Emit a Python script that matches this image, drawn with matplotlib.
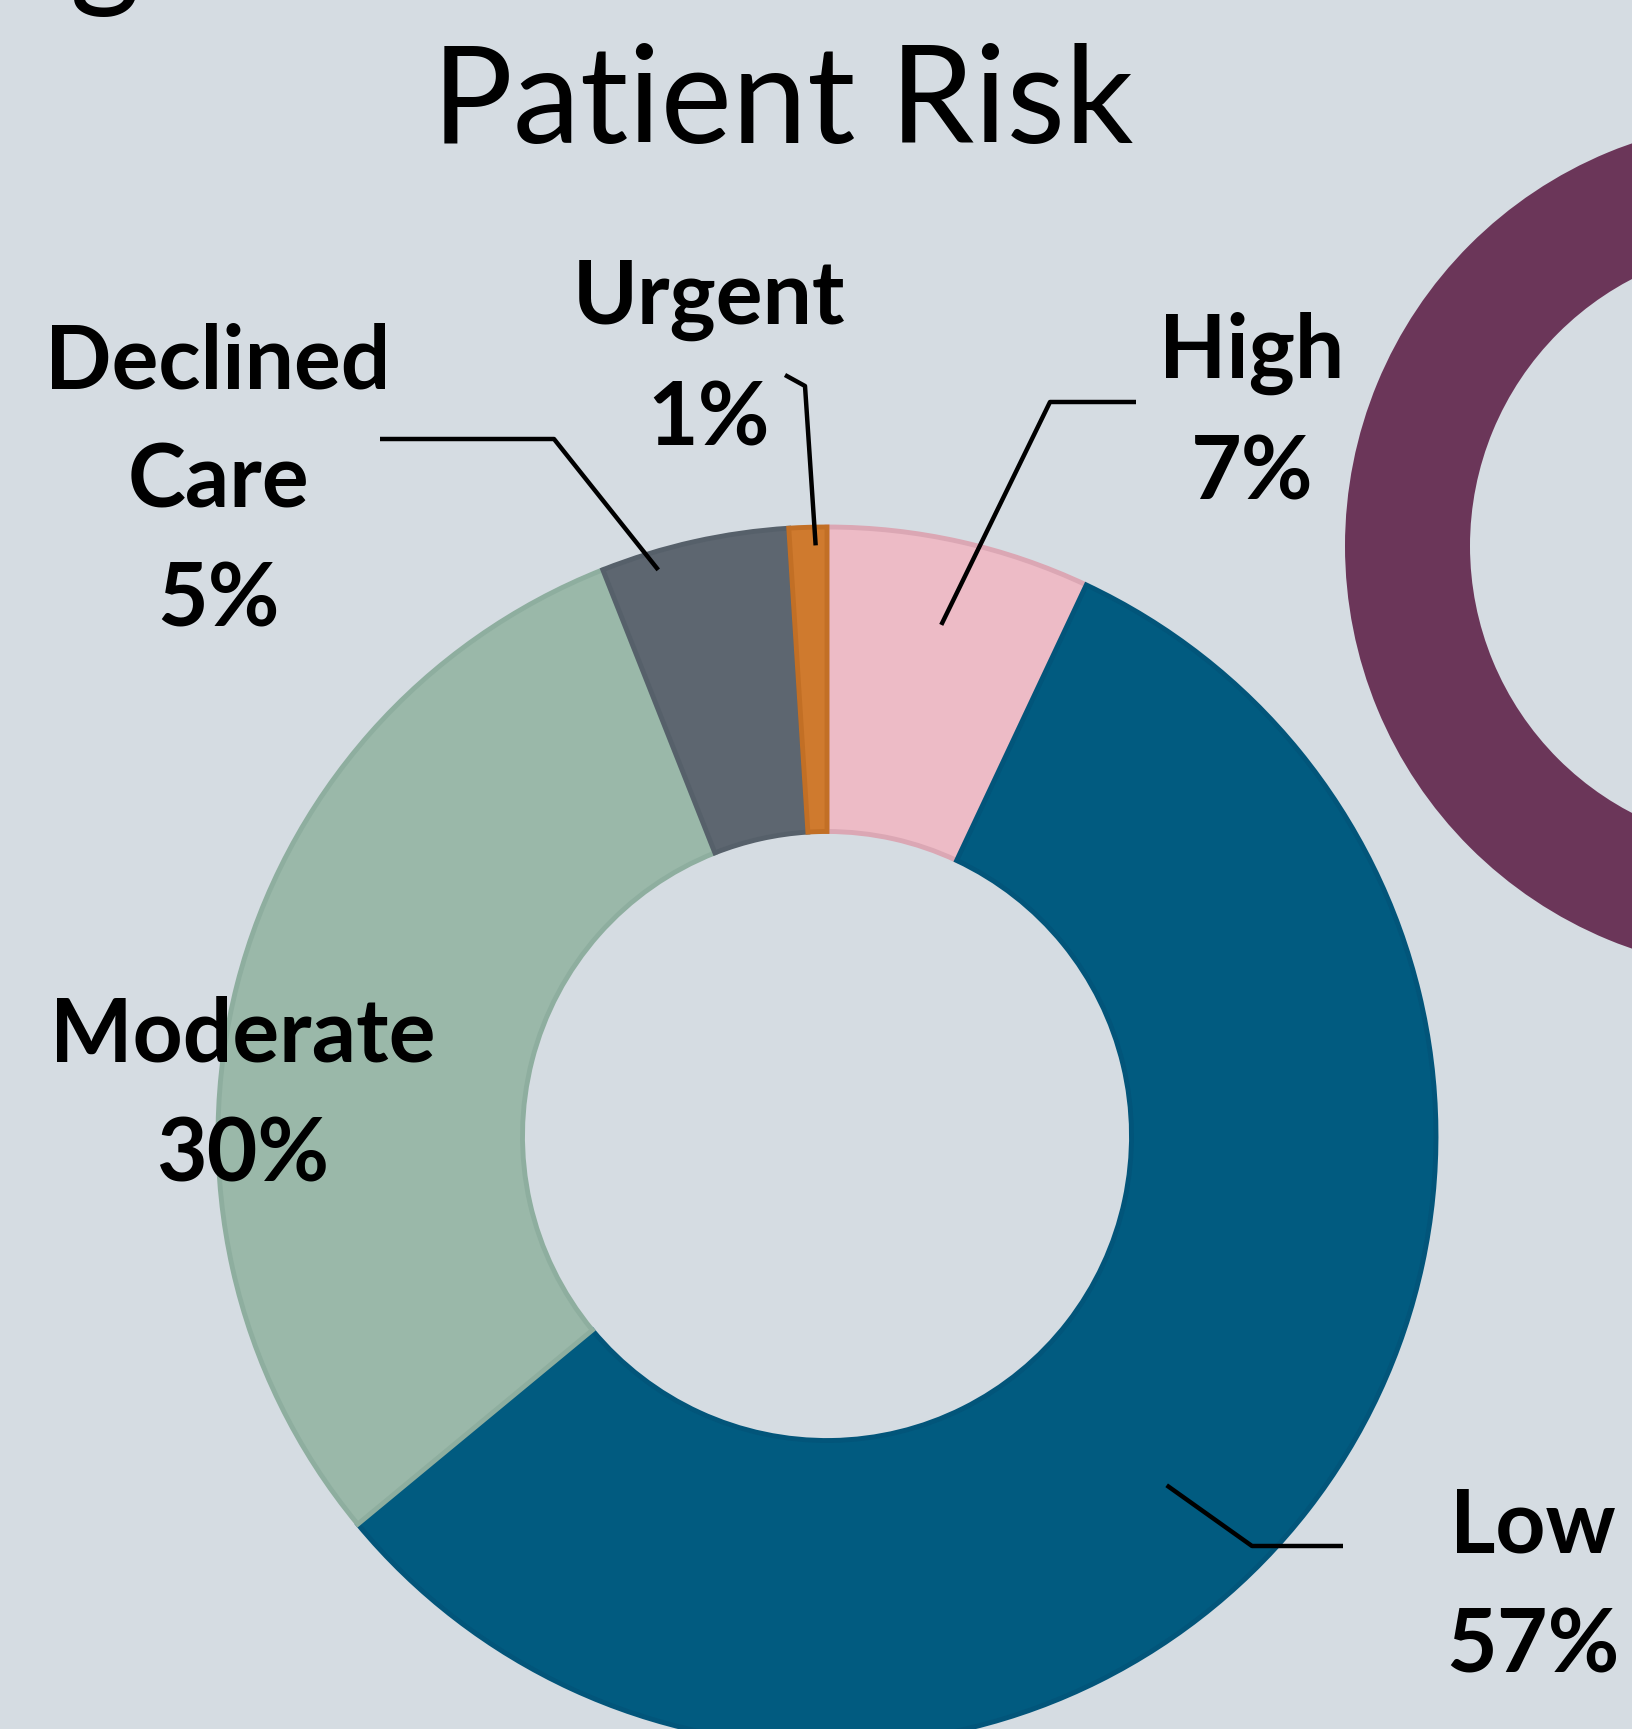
import numpy as np
import matplotlib.pyplot as plt
from matplotlib.patches import Wedge

# data
categories = ['High', 'Low', 'Moderate', 'Declined\nCare', 'Urgent']
shares = [7, 57, 30, 5, 1]
colors = ['#EDBBC6', '#015B80', '#9AB8A9', '#5D6670', '#CF7A2E']
edges = ['#DBA7B4', '#02557A', '#8EAE9F', '#56606A', '#C26F25']

W, H = 1632, 1729
BG = '#D5DCE2'

fig = plt.figure(figsize=(W / 100, H / 100), dpi=100, facecolor=BG)
ax = fig.add_axes([0, 0, 1, 1])
ax.set_facecolor(BG)

cx, cy, R = 827, H - 1136, 609
wedges, _ = ax.pie(shares, colors=colors, startangle=90, counterclock=False,
                   radius=R, center=(cx, cy),
                   wedgeprops=dict(width=R * 0.5, linewidth=3.5))
for w, ec in zip(wedges, edges):
    w.set_edgecolor(ec)

# decorative ring cut at the right edge
ax.add_patch(Wedge((1771, H - 546), 426, 0, 360, width=125, facecolor='#6B3659',
                   edgecolor='none'))

ax.set_xlim(0, W)
ax.set_ylim(0, H)
ax.set_aspect('auto')
ax.axis('off')

# label text position and leader elbow (pixel layout), anchored to wedge mid-angle
layout = {
    'High':          dict(text=(1252, 413), elbow=[(1136, 402), (1050, 402)], rf=0.86),
    'Low':           dict(text=(1533, 1587), elbow=[(1343, 1546), (1252, 1546)], rf=0.80),
    'Moderate':      dict(text=(243, 1096), elbow=None, rf=0),
    'Declined\nCare': dict(text=(218, 482), elbow=[(380, 439), (554, 439)], rf=0.97),
    'Urgent':        dict(text=(709, 360), elbow=[(785, 375), (805, 386)], rf=0.97),
}
offsets = {'High': 0, 'Low': 8, 'Declined\nCare': -4, 'Urgent': 0.7}

start = 0.0
total = sum(shares)
for cat, val in zip(categories, shares):
    mid = (start + val / 2) / total * 360
    start += val
    lay = layout[cat]
    tx, ty = lay['text']
    ax.text(tx, H - ty, f'{cat}\n{val}%', ha='center', va='center',
            multialignment='center', fontsize=63, fontweight='bold',
            family=['Lato', 'DejaVu Sans'], linespacing=1.58, color='black')
    if lay['elbow'] is None:
        continue
    ang = np.deg2rad(mid + offsets[cat])
    ax_x = cx + lay['rf'] * R * np.sin(ang)
    ax_y = cy + lay['rf'] * R * np.cos(ang)
    xs = [p[0] for p in lay['elbow']] + [ax_x]
    ys = [H - p[1] for p in lay['elbow']] + [ax_y]
    ax.plot(xs, ys, color='black', linewidth=3.2, solid_capstyle='butt')

# title (and the tail of the line above it)
ax.text(783, H - 143, 'Patient Risk', ha='center', va='baseline', fontsize=97,
        family=['Lato', 'DejaVu Sans'], color='black')
ax.text(105, H + 8, 'g', ha='center', va='baseline', fontsize=97,
        family=['Lato', 'DejaVu Sans'], color='black')

fig.savefig('out.png', dpi=100, facecolor=BG)
